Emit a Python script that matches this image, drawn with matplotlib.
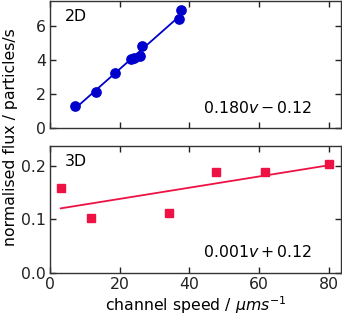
import numpy as np
import matplotlib
matplotlib.use("Agg")
import matplotlib.pyplot as plt

# 2D data
x2d = [7.2, 13.3, 18.6, 23.4, 24.0, 25.8, 26.5, 37.0, 37.7]
y2d = [1.33, 2.12, 3.27, 4.10, 4.12, 4.25, 4.84, 6.41, 6.98]
# 3D data
x3d = [3.1, 11.7, 34.1, 47.7, 61.8, 80.0]
y3d = [0.159, 0.1015, 0.112, 0.1875, 0.1875, 0.204]

label2d = r"$0.180v - 0.12$"
label3d = r"$0.001v + 0.12$"
xticks = [0, 20, 40, 60, 80]

blue = "#0000CC"
red = "#EE1144"

fs = 11.3
plt.rcParams['font.size'] = fs
plt.rcParams['mathtext.fontset'] = 'dejavusans'

fig = plt.figure(figsize=(3.42, 3.18), dpi=100)
ax1 = fig.add_axes([0.146, 0.597, 0.851, 0.400])
ax2 = fig.add_axes([0.146, 0.143, 0.851, 0.398])

for ax in (ax1, ax2):
    ax.tick_params(direction='in', top=True, right=True, length=4, width=1, labelsize=fs, colors='#222222', pad=3)
    for s in ax.spines.values():
        s.set_color('#333333')
        s.set_linewidth(1.0)
    ax.set_xlim(0, 83.5)
    ax.set_xticks(xticks)

# top
p = np.polyfit(x2d, y2d, 1)
xs = np.array([min(x2d), max(x2d)])
ax1.plot(xs, np.polyval(p, xs), color=blue, lw=1.3)
ax1.plot(x2d, y2d, 'o', color=blue, ms=6.7)
ax1.set_ylim(0, 7.5)
ax1.set_yticks([0, 2, 4, 6])
ax1.set_xticklabels([])
ax1.text(0.05, 0.875, "2D", transform=ax1.transAxes, ha='left', va='center', fontsize=fs)
ax1.text(0.9, 0.155, label2d, transform=ax1.transAxes, ha='right', va='center', fontsize=fs)

# bottom
q = np.polyfit(x3d, y3d, 1)
xs3 = np.array([min(x3d), max(x3d)])
ax2.plot(xs3, np.polyval(q, xs3), color=red, lw=1.3)
ax2.plot(x3d, y3d, 's', color=red, ms=6.2)
ax2.set_ylim(0, 0.237)
ax2.set_yticks([0.0, 0.1, 0.2])
ax2.set_yticklabels(['0.0', '0.1', '0.2'])
ax2.set_xlabel(r"channel speed / $\mu ms^{-1}$", fontsize=fs, labelpad=2)
ax2.text(0.05, 0.876, "3D", transform=ax2.transAxes, ha='left', va='center', fontsize=fs)
ax2.text(0.9, 0.165, label3d, transform=ax2.transAxes, ha='right', va='center', fontsize=fs)

fig.text(0.03, 0.57, "normalised flux / particles/s", rotation=90, ha='center', va='center', fontsize=fs)

fig.savefig("out.png", dpi=100)
